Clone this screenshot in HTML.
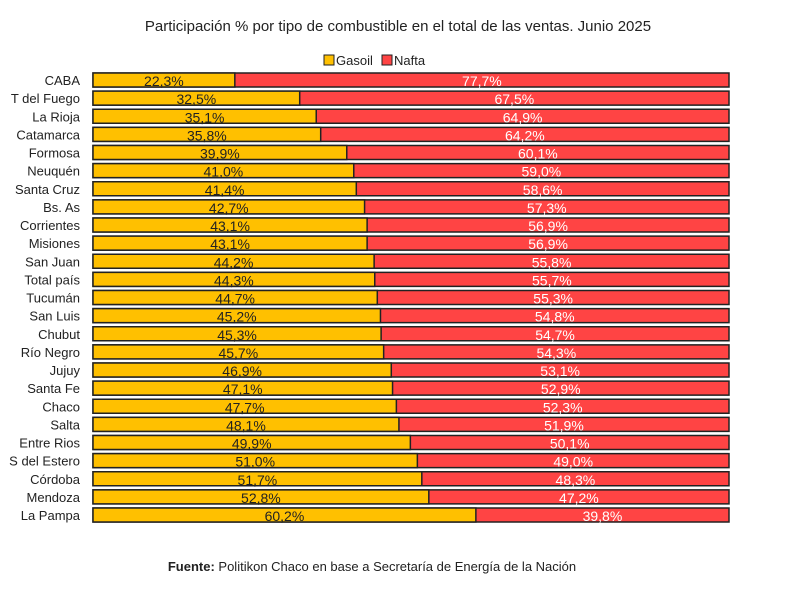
<!DOCTYPE html>
<html><head><meta charset="utf-8"><style>
body{margin:0;background:#fff;width:800px;height:590px;overflow:hidden}
text{font-family:"Liberation Sans",sans-serif}
</style></head><body>
<svg width="800" height="590" xmlns="http://www.w3.org/2000/svg">
<text x="398" y="31" text-anchor="middle" font-size="15" fill="#222">Participación % por tipo de combustible en el total de las ventas. Junio 2025</text>
<rect x="324" y="55" width="10" height="10" fill="#FFC000" stroke="#222" stroke-width="1"/>
<text x="336" y="65" font-size="13" fill="#222">Gasoil</text>
<rect x="382" y="55" width="10" height="10" fill="#F44" stroke="#222" stroke-width="1"/>
<text x="394" y="65" font-size="13" fill="#222">Nafta</text>
<g id="bars"></g>
<text x="372" y="571" text-anchor="middle" font-size="13" fill="#222"><tspan font-weight="bold">Fuente:</tspan> Politikon Chaco en base a Secretaría de Energía de la Nación</text>
</svg>
<script>
var d=[["CABA",22.3],["T del Fuego",32.5],["La Rioja",35.1],["Catamarca",35.8],["Formosa",39.9],["Neuquén",41.0],["Santa Cruz",41.4],["Bs. As",42.7],["Corrientes",43.1],["Misiones",43.1],["San Juan",44.2],["Total país",44.3],["Tucumán",44.7],["San Luis",45.2],["Chubut",45.3],["Río Negro",45.7],["Jujuy",46.9],["Santa Fe",47.1],["Chaco",47.7],["Salta",48.1],["Entre Rios",49.9],["S del Estero",51.0],["Córdoba",51.7],["Mendoza",52.8],["La Pampa",60.2]];
var g=document.getElementById("bars"),s="",x0=93,W=636;
function f(v){return v.toFixed(1).replace(".",",")+"%";}
d.forEach(function(r,i){var y=73+18.125*i,w=W*r[1]/100,n=(100-r[1]);
s+='<rect x="'+x0+'" y="'+y+'" width="'+W+'" height="14" fill="#F44" stroke="#222" stroke-width="1.5"/>';
s+='<rect x="'+x0+'" y="'+y+'" width="'+w+'" height="14" fill="#FFC000" stroke="#222" stroke-width="1.5"/>';
s+='<text x="80" y="'+(y+12)+'" text-anchor="end" font-size="13" fill="#222">'+r[0]+'</text>';
s+='<text x="'+(x0+w/2)+'" y="'+(y+13)+'" text-anchor="middle" font-size="14" fill="#222">'+f(r[1])+'</text>';
s+='<text x="'+(x0+w+(W-w)/2)+'" y="'+(y+13)+'" text-anchor="middle" font-size="14" fill="#fff">'+f(Math.round(n*10)/10)+'</text>';});
g.innerHTML=s;
</script>
</body></html>
